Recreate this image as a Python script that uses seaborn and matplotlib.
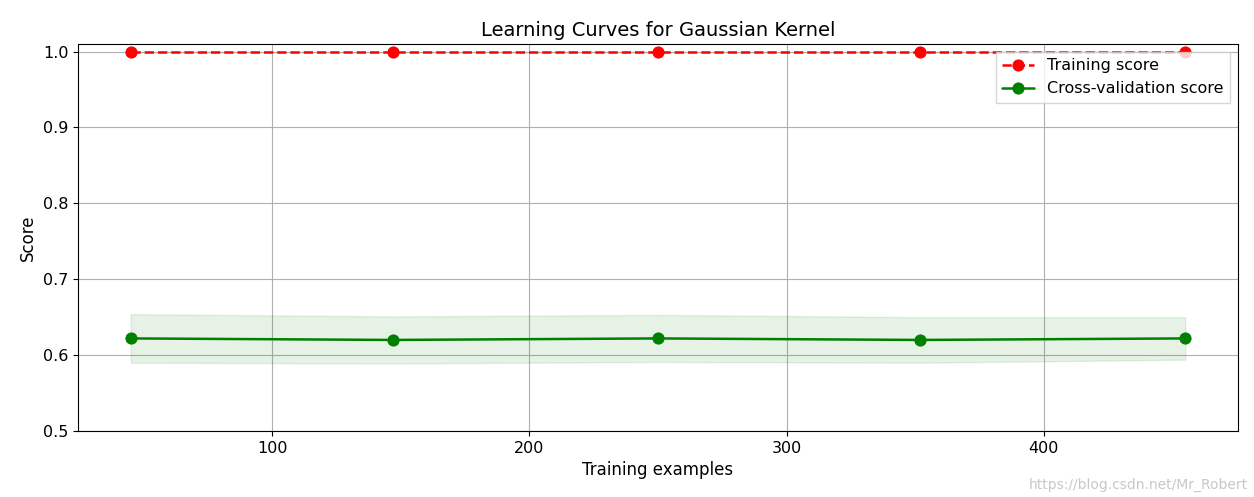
import numpy as np
import pandas as pd
import matplotlib
matplotlib.use("Agg")
import matplotlib.pyplot as plt
import seaborn as sns

# values
train_sizes = [45, 147, 250, 352, 455]
train_mean = [1.0, 1.0, 1.0, 1.0, 1.0]
train_std = [0.0, 0.0, 0.0, 0.0, 0.0]
cv_mean = [0.622, 0.620, 0.622, 0.620, 0.622]
cv_std = [0.032, 0.031, 0.031, 0.030, 0.028]

sns.set_style("white")
plt.rcParams['font.family'] = ['DejaVu Sans']
plt.rcParams['text.color'] = 'black'
plt.rcParams['axes.labelcolor'] = 'black'
plt.rcParams['xtick.color'] = 'black'
plt.rcParams['ytick.color'] = 'black'

fig = plt.figure(figsize=(12.54, 4.97), dpi=100)
ax = fig.add_axes([78/1254, 1 - 431/497, (1238-78)/1254, (431-44)/497])

tm, ts = np.array(train_mean), np.array(train_std)
cm, cs = np.array(cv_mean), np.array(cv_std)
ax.fill_between(train_sizes, tm - ts, tm + ts, alpha=0.1, color="r")
ax.fill_between(train_sizes, cm - cs, cm + cs, alpha=0.1, color="g")

df = pd.DataFrame({"size": train_sizes, "train": train_mean, "cv": cv_mean})
sns.lineplot(data=df, x="size", y="train", ax=ax, color="r", linestyle="--", linewidth=1.8,
             marker="o", markersize=8, markeredgecolor="r", label="Training score")
sns.lineplot(data=df, x="size", y="cv", ax=ax, color="g", linewidth=1.8,
             marker="o", markersize=8, markeredgecolor="g", label="Cross-validation score")

ax.set_ylim(0.5, 1.01)
ax.set_xticks([100, 200, 300, 400])
ax.grid(True, color="#b0b0b0")
for s in ax.spines.values():
    s.set_color("black")
ax.tick_params(labelsize=11.5, left=True, bottom=True)
ax.set_xlabel("Training examples", fontsize=12)
ax.set_ylabel("Score", fontsize=12)
ax.set_title("Learning Curves for Gaussian Kernel", fontsize=14)
ax.legend(loc="upper right", fontsize=11.5, frameon=True, fancybox=False, edgecolor="#cccccc")
fig.text(0.995, 0.01, "https://blog.csdn.net/Mr_Robert", ha="right", va="bottom",
         fontsize=10, color="#c8c8c8")

fig.savefig("out.png", dpi=100)
